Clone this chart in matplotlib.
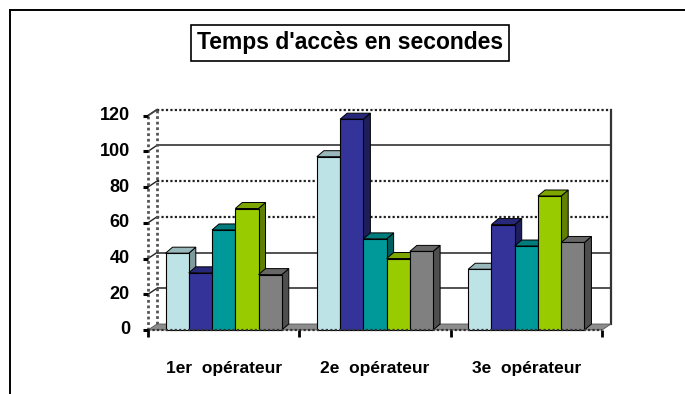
import matplotlib
matplotlib.use("Agg")
import matplotlib.pyplot as plt
from matplotlib.patches import Polygon
import numpy as np

plt.rcParams['font.family'] = ['Liberation Sans', 'DejaVu Sans']

# Data
categories = ["1er  opérateur", "2e  opérateur", "3e  opérateur"]
series_values = [
    [43, 97, 34],
    [32, 118, 59],
    [56, 51, 47],
    [68, 40, 75],
    [31, 44, 49],
]
front_colors = ["#BDE3E7", "#333399", "#009999", "#99CC00", "#808080"]
top_colors = ["#98B8BB", "#28287A", "#007C7C", "#7DA600", "#676767"]
side_colors = ["#7F9A9C", "#1E1E5C", "#005F5F", "#5F8000", "#4E4E4E"]
y_ticks = [0, 20, 40, 60, 80, 100, 120]
title = "Temps d'accès en secondes"

W, H = 685, 394
fig = plt.figure(figsize=(W / 100, H / 100), dpi=100)
fig.patch.set_facecolor("white")

# plotting area (front plane) in pixels
x0, x1 = 148, 602
yb, yt = 330, 115.6
ax = fig.add_axes([x0 / W, (H - yb) / H, (x1 - x0) / W, (yb - yt) / H])
ymax = 120
ax.set_xlim(0, 3)
ax.set_ylim(0, ymax)
ax.axis("off")

px_x = 3 / (x1 - x0)          # data units per pixel (x)
px_y = ymax / (yb - yt)       # data units per pixel (y)

# depth of walls and bars
wdx, wdy = 9 * px_x, 6 * px_y
bdx, bdy = 7 * px_x, 6 * px_y

# back wall gridlines
dotted = {20: False, 40: False, 60: True, 80: True, 100: False, 120: True}
for v in y_ticks[1:]:
    ls = (0, (1, 1)) if dotted[v] else "-"
    ax.plot([wdx, 3 + wdx], [v + wdy, v + wdy], color="#222222",
            lw=1.6 if dotted[v] else 1.1, ls=ls, zorder=1, clip_on=False,
            solid_capstyle="butt")
    # slanted lines on the side wall
    ax.plot([0, wdx], [v, v + wdy], color="#222222", lw=1.0, zorder=1,
            clip_on=False)

# right edge of back wall
ax.plot([3 + wdx, 3 + wdx], [wdy, ymax + wdy], color="#333333", lw=1.6,
        zorder=1, clip_on=False)
# side wall edges (dotted)
for xx in (0, wdx):
    ax.plot([xx, xx], [0 if xx == 0 else wdy, ymax + (0 if xx == 0 else wdy)],
            color="#555555", lw=2.0, ls=(0, (1, 1)), zorder=1, clip_on=False)
ax.plot([0, wdx], [ymax, ymax + wdy], color="#444444", lw=1.2, zorder=1,
        clip_on=False)

# floor
floor = Polygon([(0, 0), (3, 0), (3 + wdx, wdy), (wdx, wdy)], closed=True,
                facecolor="#8C8C8C", edgecolor="#555555", lw=0.6, zorder=2,
                clip_on=False)
ax.add_patch(floor)

# bars
n = len(series_values)
bw = 0.1536
centers = np.arange(len(categories)) + 0.5
for g in range(len(categories)):
    for i in range(n):
        v = series_values[i][g]
        xc = centers[g] + (i - (n - 1) / 2) * bw
        xl, xr = xc - bw / 2, xc + bw / 2
        z = 3 + g * 10 + i
        side = Polygon([(xr, 0), (xr + bdx, bdy), (xr + bdx, v + bdy), (xr, v)],
                       closed=True, facecolor=side_colors[i], edgecolor="black",
                       lw=0.7, zorder=z, clip_on=False)
        top = Polygon([(xl, v), (xr, v), (xr + bdx, v + bdy), (xl + bdx, v + bdy)],
                      closed=True, facecolor=top_colors[i], edgecolor="black",
                      lw=0.7, zorder=z, clip_on=False)
        ax.add_patch(side)
        ax.add_patch(top)
        ax.bar(xc, v, width=bw, color=front_colors[i], edgecolor="black",
               lw=0.8, zorder=z + 0.5, clip_on=False)

# front edge of floor
ax.plot([0, 3], [0, 0], color="#333333", lw=1.6, ls=(0, (1, 1)), zorder=60,
        clip_on=False)

# y ticks and labels
for v in y_ticks:
    ax.plot([-5 * px_x, 0], [v, v], color="black", lw=2.2, zorder=61,
            clip_on=False, solid_capstyle="butt")
    ax.text(-18 * px_x, v, str(v), ha="right", va="center", fontsize=13,
            fontweight="bold", color="black")

# x ticks and labels
for k in range(len(categories) + 1):
    ax.plot([k, k], [0, -7 * px_y], color="black", lw=2.0, zorder=61,
            clip_on=False, solid_capstyle="butt")
for g, lab in enumerate(categories):
    ax.text(centers[g], -38 * px_y, lab, ha="center", va="center",
            fontsize=12.5, fontweight="bold", color="black")

# title in a framed box
fig.text(350 / W, (H - 43) / H, title, ha="center", va="center",
         fontsize=16.5, fontweight="bold", color="black",
         bbox=dict(boxstyle="square,pad=0.28", facecolor="white",
                   edgecolor="black", lw=1.2))

# outer chart frame (top and left edges)
fig.add_artist(plt.Line2D([10 / W, 10 / W], [0, (H - 10) / H], color="black",
                          lw=1.4, transform=fig.transFigure))
fig.add_artist(plt.Line2D([10 / W, 1], [(H - 10) / H, (H - 10) / H],
                          color="black", lw=1.4, transform=fig.transFigure))

fig.savefig("out.png", dpi=100)
